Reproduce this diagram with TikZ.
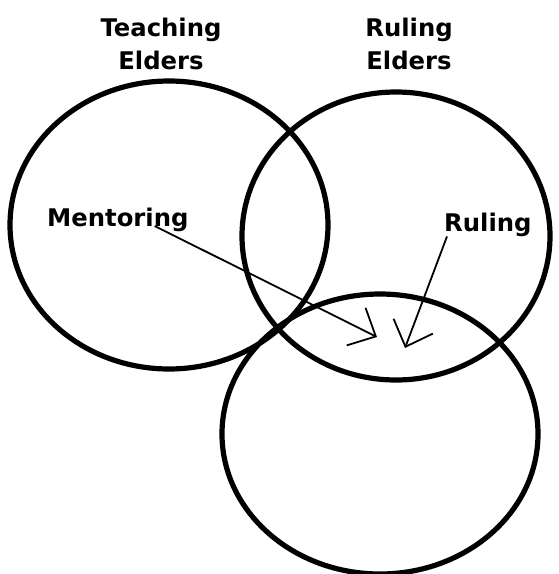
\documentclass[tikz,border=0pt]{standalone}
\usepackage{fontspec}
\setmainfont{DejaVu Sans}
\usepackage{tikz}
\usetikzlibrary{shapes.geometric}
\usetikzlibrary{arrows.meta}

\begin{document}
\begin{tikzpicture}[x=1pt, y=-1pt,
  ring/.style={ellipse, draw, line width=5.2pt, inner sep=0pt},
  lbl/.style={inner sep=0pt, font=\bfseries\fontsize{24.3}{33}\selectfont},
  pointer/.style={-{Straight Barb[length=22pt, width=42pt]}, line width=1.8pt}]
\useasboundingbox (0,0) rectangle (558,574);
\node[ring, minimum width=318pt, minimum height=288pt] (teach) at (169,225) {};
\node[ring, minimum width=308pt, minimum height=288pt] (rule) at (396,236) {};
\node[ring, minimum width=316pt, minimum height=280pt] (session) at (380,434) {};
\node[lbl, align=center, anchor=north] (tlabel) at (161,18) {Teaching\\Elders};
\node[lbl, align=center, anchor=north] (rlabel) at (409,18) {Ruling\\Elders};
\node[lbl, anchor=base west] (mentor) at (47,226) {Mentoring};
\node[lbl, anchor=base west] (ruling) at (444,231) {Ruling};
\coordinate (mtip) at (377,337);
\coordinate (rtip) at (405,348);
\draw[pointer] ([xshift=-34pt]mentor.base east) -- (mtip);
\draw[pointer] ([xshift=3pt]ruling.south west) -- (rtip);
\end{tikzpicture}
\end{document}
